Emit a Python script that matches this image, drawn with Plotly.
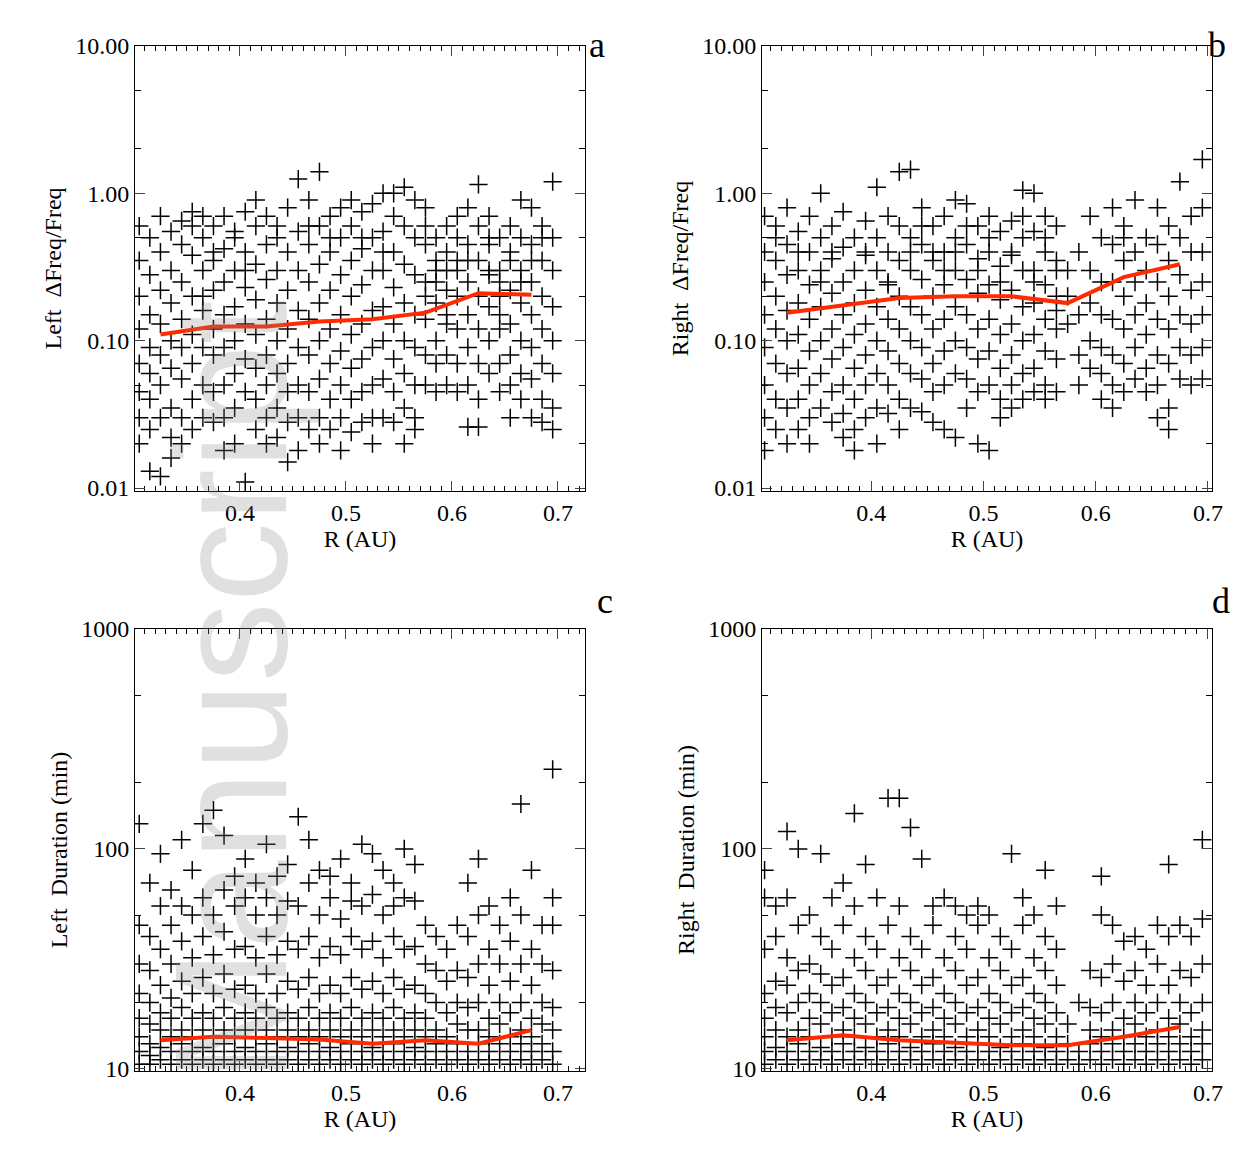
import plotly.graph_objects as go

# column x positions (AU) and the y values
COL_X = [round(0.305 + 0.01 * i, 3) for i in range(40)]

A_COLS = [
    [.6, .35, .2, .12, .07, .045, .03, .02], [.5, .28, .15, .09, .06, .04, .025, .013],
    [.7, .4, .22, .13, .08, .05, .03, .012], [.55, .3, .18, .1, .065, .035, .022, .016],
    [.65, .45, .25, .14, .09, .055, .03, .02], [.75, .38, .2, .11, .07, .04, .025, .6],
    [.5, .3, .16, .09, .05, .03, .7, .2], [.6, .35, .22, .12, .08, .045, .028, .4],
    [.7, .42, .25, .15, .09, .05, .03, .018], [.55, .3, .17, .1, .06, .035, .02, .5],
    [.75, .4, .23, .13, .075, .045, .011, .3], [.6, .33, .19, .11, .065, .04, .025, .9],
    [.7, .45, .26, .14, .08, .05, .03, .02], [.5, .3, .18, .1, .06, .035, .022, .6],
    [.8, .4, .22, .12, .07, .045, .028, .015], [1.25, .55, .3, .16, .09, .05, .03, .018],
    [.9, .45, .25, .14, .08, .045, .025, .6], [1.4, .6, .33, .18, .1, .055, .03, .02],
    [.7, .4, .22, .12, .07, .04, .025, .5], [.8, .5, .28, .15, .085, .05, .03, .018],
    [.6, .35, .2, .11, .065, .04, .024, .9], [.75, .42, .24, .13, .075, .045, .028, .5],
    [.85, .5, .3, .16, .09, .05, .03, .02], [1.0, .55, .3, .17, .1, .055, .03, .4],
    [.7, .4, .23, .13, .075, .045, .028, 1.0], [1.1, .6, .33, .18, .1, .06, .035, .02],
    [.9, .5, .28, .15, .09, .05, .03, .025], [.8, .45, .25, .14, .08, .05, .6, .2],
    [.5, .3, .18, .1, .07, .045, .35, .25], [.4, .22, .13, .08, .05, .6, .3, .15],
    [.7, .35, .2, .12, .07, .045, .3, .5], [.8, .45, .25, .15, .09, .05, .026, .35],
    [1.15, .6, .35, .2, .12, .07, .04, .026], [.7, .45, .28, .17, .1, .06, .3, .5],
    [.5, .3, .2, .12, .07, .045, .25, .15], [.6, .35, .22, .13, .08, .05, .03, .4],
    [.9, .5, .3, .18, .1, .06, .04, .25], [.8, .45, .25, .15, .09, .055, .03, .35],
    [.6, .35, .2, .12, .07, .04, .028, .5], [1.2, .5, .3, .17, .1, .06, .035, .025],
]

B_COLS = [
    [.7, .4, .25, .15, .09, .05, .03, .018], [.6, .35, .2, .12, .07, .04, .025, .5],
    [.8, .45, .28, .16, .1, .06, .035, .02], [.55, .3, .18, .11, .065, .04, .025, .4],
    [.7, .4, .24, .14, .085, .05, .03, .02], [1.0, .5, .3, .17, .1, .06, .035, .25],
    [.6, .36, .21, .12, .075, .045, .028, .4], [.75, .43, .25, .15, .09, .05, .032, .022],
    [.5, .3, .18, .11, .065, .04, .025, .018], [.65, .38, .22, .13, .08, .05, .03, .4],
    [1.1, .5, .3, .17, .1, .06, .035, .02], [.7, .4, .24, .14, .085, .05, .032, .25],
    [1.4, .6, .35, .2, .12, .07, .04, .025], [1.45, .5, .3, .17, .1, .06, .035, .4],
    [.8, .45, .26, .15, .09, .055, .033, .6], [.6, .35, .2, .12, .07, .045, .028, .4],
    [.7, .4, .24, .14, .085, .05, .025, .3], [.9, .5, .3, .17, .1, .06, .022, .4],
    [.85, .45, .26, .15, .09, .055, .035, .6], [.6, .36, .21, .12, .075, .045, .02, .3],
    [.7, .4, .24, .14, .085, .05, .018, .5], [.55, .32, .19, .11, .065, .04, .03, .25],
    [.65, .38, .22, .13, .08, .05, .035, .4], [1.05, .5, .3, .17, .1, .06, .04, .7],
    [1.0, .55, .3, .18, .11, .065, .045, .25], [.7, .4, .24, .14, .085, .05, .04, .5],
    [.6, .35, .2, .12, .075, .045, .3, .16], [.3, .2, .13],
    [.4, .15, .08, .05], [.7, .3, .18, .1, .065],
    [.5, .25, .15, .09, .06, .04], [.8, .45, .25, .14, .08, .05, .035],
    [.6, .35, .2, .12, .07, .045, .5], [.9, .4, .25, .15, .09, .055],
    [.5, .3, .18, .11, .065, .045], [.8, .45, .25, .14, .08, .05, .03],
    [.6, .35, .2, .12, .07, .035, .025], [1.2, .5, .28, .15, .09, .055],
    [.7, .4, .22, .13, .08, .05], [1.7, .8, .4, .25, .15, .09, .055],
]

C_COLS = [
    [10.5, 12, 14, 17, 22, 30, 45, 130], [10.5, 11.5, 13, 16, 20, 28, 40, 70],
    [11, 12.5, 15, 18, 24, 35, 55, 95], [10.5, 12, 14, 17, 21, 30, 45, 65],
    [11, 13, 15, 19, 25, 38, 55, 110], [10.5, 12, 14, 17, 22, 32, 50, 80],
    [11, 12.5, 15, 18, 26, 40, 60, 130], [10.5, 12, 14, 17, 22, 33, 50, 150],
    [11, 13, 15, 19, 27, 42, 65, 115], [10.5, 12, 14, 17, 23, 35, 55, 75],
    [11, 12.5, 15, 18, 24, 36, 60, 90], [10.5, 12, 14, 17, 22, 32, 50, 70],
    [11, 13, 15, 19, 27, 40, 60, 105], [10.5, 12, 14, 17, 22, 33, 50, 75],
    [11, 12.5, 15, 18, 25, 38, 58, 85], [10.5, 12, 14, 17, 23, 35, 55, 140],
    [11, 13, 15, 19, 26, 40, 70, 110], [10.5, 12, 14, 17, 22, 32, 50, 80],
    [11, 12.5, 15, 18, 24, 36, 60, 75], [10.5, 12, 14, 17, 22, 33, 48, 90],
    [11, 13, 15, 19, 26, 40, 58, 70], [10.5, 12, 14, 17, 23, 35, 55, 105],
    [11, 12.5, 15, 18, 25, 38, 62, 95], [10.5, 12, 14, 17, 22, 32, 50, 80],
    [11, 13, 15, 19, 26, 40, 55, 70], [10.5, 12, 14, 17, 23, 35, 60, 100],
    [11, 12.5, 15, 18, 24, 36, 58, 85], [10.5, 12, 14, 17, 22, 30, 45],
    [11, 13, 15, 20, 28, 40], [10.5, 12, 14, 18, 25, 35],
    [11, 13, 16, 20, 28, 45], [10.5, 12, 15, 19, 26, 40, 70],
    [11, 13, 15, 20, 30, 50, 90], [10.5, 12, 14, 17, 24, 35, 55],
    [11, 13, 16, 20, 30, 45], [10.5, 12, 14, 18, 25, 38, 60],
    [11, 13, 15, 20, 30, 50, 160], [10.5, 12, 14, 17, 24, 35, 80],
    [11, 13, 16, 20, 30, 45], [10.5, 12, 15, 19, 28, 45, 60, 230],
]

D_COLS = [
    [10.5, 12, 14, 17, 22, 35, 60, 80], [11, 12.5, 15, 19, 25, 40, 55],
    [10.5, 12, 14, 18, 24, 32, 60, 120], [11, 13, 15, 20, 28, 45, 100],
    [10.5, 12, 14, 17, 22, 30, 50], [11, 12.5, 16, 20, 27, 40, 95],
    [10.5, 12, 14, 18, 24, 35, 60], [11, 13, 15, 19, 26, 45, 70],
    [10.5, 12, 14, 17, 22, 32, 55, 145], [11, 12.5, 16, 20, 28, 40, 85],
    [10.5, 12, 14, 18, 24, 35, 60], [11, 13, 15, 19, 26, 45, 170],
    [10.5, 12, 14, 17, 22, 32, 55, 170], [11, 12.5, 16, 20, 28, 40, 125],
    [10.5, 12, 14, 18, 24, 35, 90], [11, 13, 15, 19, 26, 45, 55],
    [10.5, 12, 14, 17, 22, 32, 60], [11, 12.5, 16, 20, 28, 40, 55],
    [10.5, 12, 14, 18, 24, 35, 50], [11, 13, 15, 19, 26, 45, 55],
    [10.5, 12, 14, 17, 22, 32, 50], [11, 12.5, 16, 20, 28, 40],
    [10.5, 12, 14, 18, 24, 35, 95], [11, 13, 15, 19, 26, 45, 60],
    [10.5, 12, 14, 17, 22, 32, 50], [11, 12.5, 16, 20, 28, 40, 80],
    [10.5, 12, 14, 18, 24, 35, 55], [11, 13, 16],
    [10.5, 12, 20], [11, 13, 15, 19, 28],
    [10.5, 12, 14, 18, 26, 50, 75], [11, 13, 15, 20, 30, 45],
    [10.5, 12, 14, 17, 25, 38], [11, 13, 16, 20, 28, 40],
    [10.5, 12, 14, 18, 24, 35], [11, 13, 15, 20, 30, 45],
    [10.5, 12, 14, 17, 24, 40, 85], [11, 13, 16, 20, 28, 45],
    [10.5, 12, 14, 18, 26, 40], [11, 13, 15, 20, 30, 48, 110],
]

# binned medians (red lines)
MED_X = [0.325, 0.375, 0.425, 0.475, 0.525, 0.575, 0.625, 0.675]
MED_A = [0.11, 0.125, 0.125, 0.135, 0.14, 0.155, 0.21, 0.205]
MED_B = [0.155, 0.175, 0.195, 0.2, 0.2, 0.18, 0.27, 0.33]
MED_C = [13.5, 14, 13.8, 13.6, 13, 13.5, 13, 15]
MED_D = [13.5, 14.2, 13.5, 13.2, 12.8, 12.8, 14, 15.5]

FONT = "Liberation Serif"
W, H = 1248, 1155
DX, DY = 8, 7  # page offset of the plot div


def px_x(p):
    return (p - DX) / W


def px_y(p):
    return 1 - (p - DY) / H


def flatten(cols):
    xs, ys = [], []
    for x, col in zip(COL_X, cols):
        for y in col:
            xs.append(x)
            ys.append(y)
    return xs, ys


fig = go.Figure()
panels = [
    (A_COLS, MED_A, "x", "y"),
    (B_COLS, MED_B, "x2", "y2"),
    (C_COLS, MED_C, "x3", "y3"),
    (D_COLS, MED_D, "x4", "y4"),
]
for cols, med, xa, ya in panels:
    xs, ys = flatten(cols)
    fig.add_trace(go.Scatter(x=xs, y=ys, mode="markers", xaxis=xa, yaxis=ya,
                             marker=dict(symbol="cross-thin", size=13, color="black",
                                         line=dict(width=1.5, color="black")),
                             showlegend=False))
    fig.add_trace(go.Scatter(x=MED_X, y=med, mode="lines", xaxis=xa, yaxis=ya,
                             line=dict(color="#ff2a00", width=4), showlegend=False))

xcommon = dict(tickvals=[0.4, 0.5, 0.6, 0.7], ticktext=["0.4", "0.5", "0.6", "0.7"],
               ticks="inside", ticklen=10, mirror="allticks", showline=True,
               linecolor="black", linewidth=1, showgrid=False, zeroline=False,
               tickfont=dict(size=24, family=FONT, color="black"),
               minor=dict(dtick=0.01, ticks="inside", ticklen=5, tickcolor="black"),
               title=dict(text="R (AU)", font=dict(size=24, family=FONT), standoff=4))
ycommon = dict(type="log", ticks="inside", ticklen=10, mirror="allticks", showline=True,
               linecolor="black", linewidth=1, showgrid=False, zeroline=False,
               tickfont=dict(size=24, family=FONT, color="black"),
               minor=dict(dtick="D2", ticks="inside", ticklen=6, tickcolor="black", showgrid=False))

top_y = dict(range=[-2.02, 1.0], tickvals=[0.01, 0.1, 1, 10],
             ticktext=["0.01", "0.10", "1.00", "10.00"])
bot_y = dict(range=[0.99, 3.0], tickvals=[10, 100, 1000], ticktext=["10", "100", "1000"])

left_dom = [px_x(135), px_x(585)]
right_dom = [px_x(762), px_x(1212)]
top_dom = [px_y(490), px_y(45)]
bot_dom = [px_y(1070), px_y(628)]


def ytitle(t):
    return dict(text=t, font=dict(size=24, family=FONT), standoff=6)


fig.update_layout(
    width=W, height=H, margin=dict(l=0, r=0, t=0, b=0, autoexpand=False),
    plot_bgcolor="white", paper_bgcolor="white",
    font=dict(family=FONT, color="black"),
    xaxis=dict(xcommon, domain=left_dom, range=[0.301, 0.7255], anchor="y"),
    xaxis2=dict(xcommon, domain=right_dom, range=[0.3027, 0.7036], anchor="y2"),
    xaxis3=dict(xcommon, domain=left_dom, range=[0.301, 0.7255], anchor="y3"),
    xaxis4=dict(xcommon, domain=right_dom, range=[0.3027, 0.7036], anchor="y4"),
    yaxis=dict(ycommon, **top_y, domain=top_dom, anchor="x", title=ytitle("Left  ΔFreq/Freq")),
    yaxis2=dict(ycommon, **top_y, domain=top_dom, anchor="x2", title=ytitle("Right  ΔFreq/Freq")),
    yaxis3=dict(ycommon, **bot_y, domain=bot_dom, anchor="x3", title=ytitle("Left  Duration (min)")),
    yaxis4=dict(ycommon, **bot_y, domain=bot_dom, anchor="x4", title=ytitle("Right  Duration (min)")),
)

for txt, px, py in [("a", 597, 22), ("b", 1228, 22), ("c", 605, 600), ("d", 1232, 600)]:
    fig.add_annotation(text=txt, x=px_x(px), y=px_y(py), xref="paper", yref="paper",
                       showarrow=False, font=dict(size=36, family=FONT, color="black"))

fig.add_annotation(text="Manuscript", x=px_x(138), y=px_y(690), xref="paper", yref="paper",
                   textangle=-90, showarrow=False, opacity=0.25,
                   font=dict(size=160, family="Liberation Sans", color="#888888"))

fig.write_html("out.html")
